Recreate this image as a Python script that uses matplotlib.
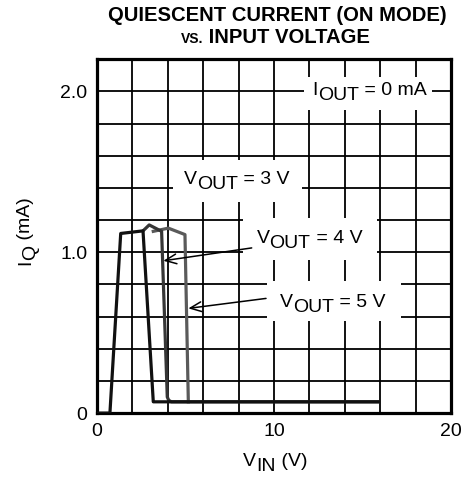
import numpy as np
import matplotlib
matplotlib.use('Agg')
import matplotlib.pyplot as plt
from matplotlib.patches import Rectangle
from matplotlib.transforms import offset_copy, IdentityTransform

plt.rcParams['font.family'] = ['Liberation Sans', 'DejaVu Sans']

# VIN (V) and IQ (mA)
vin_3v = [0.0, 0.73, 1.34, 2.6, 3.18, 15.9]
iq_3v = [0.0, 0.0, 1.117, 1.133, 0.07, 0.07]
vin_4v = [2.6, 2.95, 3.65, 3.97, 4.05, 4.2, 15.9]
iq_4v = [1.133, 1.17, 1.13, 0.1, 0.08, 0.07, 0.07]
vin_5v = [3.18, 4.03, 4.97, 5.16]
iq_5v = [1.13, 1.15, 1.11, 0.07]

x_ticks = [0, 10, 20]
y_ticks = [0, 1.0, 2.0]

fig = plt.figure(figsize=(4.72, 4.82), dpi=100)
ax = fig.add_axes([0.2055, 0.143, 0.75, 0.734])
renderer = fig.canvas.get_renderer()


def parts_text(x, y, trans, parts, rotation=0, weight='normal', box=None):
    # parts: (string, fontsize, drop in px) drawn one after another
    widths = []
    for s, size, dy in parts:
        t = fig.text(0, 0, s, fontsize=size, fontweight=weight)
        widths.append(t.get_window_extent(renderer).width)
        t.remove()
    total = sum(widths)
    off = -total / 2
    if box is not None:
        # box = (pad left, pad right, above baseline, below baseline) in px
        px, py = trans.transform((x, y))
        l, r, up, down = box
        ax.add_patch(Rectangle((px - total / 2 - l, py - down), total + l + r, up + down,
                               transform=IdentityTransform(), facecolor='white',
                               edgecolor='none', zorder=6, clip_on=False))
    for (s, size, dy), w in zip(parts, widths):
        if rotation == 90:
            tr = offset_copy(trans, fig=fig, x=dy, y=off, units='dots')
        else:
            tr = offset_copy(trans, fig=fig, x=off, y=-dy, units='dots')
        fig.text(x, y, s, transform=tr, fontsize=size, fontweight=weight, rotation=rotation,
                 rotation_mode='anchor', ha='left', va='baseline', zorder=7)
        off += w


ax.plot(vin_5v, iq_5v, color='#5a5a5a', lw=2.3, zorder=3)
ax.plot(vin_4v, iq_4v, color='#363636', lw=2.3, zorder=4)
ax.plot(vin_3v, iq_3v, color='#111111', lw=2.3, zorder=5)

ax.set_xlim(0, 20)
ax.set_ylim(0, 2.2)
ax.set_xticks(np.arange(0, 21, 2))
ax.set_yticks(np.arange(0, 2.21, 0.2))
ax.grid(True, color='black', lw=1.3)
ax.set_xticklabels([str(v) if v in x_ticks else '' for v in range(0, 21, 2)])
ax.set_yticklabels([('%g' % v if v == 0 else '%.1f' % v) if round(v, 1) in y_ticks else ''
                    for v in np.arange(0, 2.21, 0.2)])
ax.tick_params(length=0, labelsize=14, pad=7)
for s in ax.spines.values():
    s.set_linewidth(2.3)

fs = 14
parts_text(15.4, 1.976, ax.transData, [('I', fs, 0), ('OUT', fs, 5), (' = 0 mA', fs, 0)],
           box=(9, 5, 18, 15))
parts_text(7.88, 1.423, ax.transData, [('V', fs, 0), ('OUT', fs, 5), (' = 3 V', fs, 0)],
           box=(11, 13, 24, 18))
parts_text(12.0, 1.057, ax.transData, [('V', fs, 0), ('OUT', fs, 5), (' = 4 V', fs, 0)],
           box=(14, 15, 25, 17))
parts_text(13.33, 0.659, ax.transData, [('V', fs, 0), ('OUT', fs, 5), (' = 5 V', fs, 0)],
           box=(13, 15, 26, 14))

arrow = dict(arrowstyle='->,head_length=0.8,head_width=0.35', color='black', lw=1.1,
             shrinkA=0, shrinkB=0)
ax.annotate('', xy=(3.75, 0.947), xytext=(8.74, 1.027), arrowprops=arrow, zorder=8)
ax.annotate('', xy=(5.16, 0.651), xytext=(9.55, 0.713), arrowprops=arrow, zorder=8)

parts_text(0.583, 0.033, fig.transFigure, [('V', fs, 0), ('IN', fs, 5), (' (V)', fs, 0)])
parts_text(0.064, 0.521, fig.transFigure, [('I', fs, 0), ('Q', fs, 5), (' (mA)', fs, 0)], rotation=90)

parts_text(0.587, 0.956, fig.transFigure, [('QUIESCENT CURRENT (ON MODE)', 14.6, 0)], weight='bold')
parts_text(0.583, 0.911, fig.transFigure, [('VS.', 10, 0), (' INPUT VOLTAGE', 14.6, 0)], weight='bold')

fig.savefig('out.png', dpi=100)
